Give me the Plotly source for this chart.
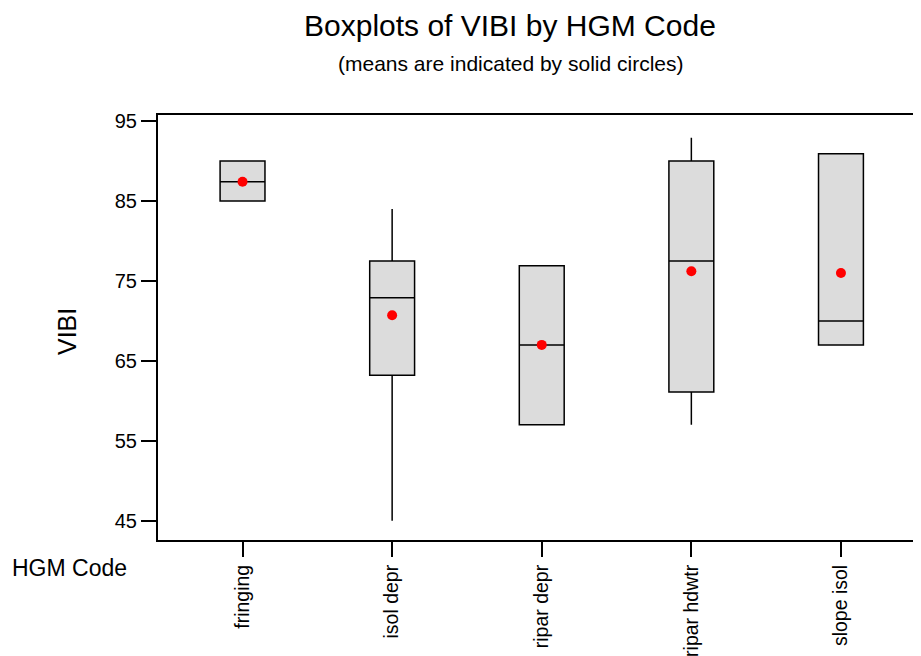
import plotly.graph_objects as go

categories = ["fringing", "isol depr", "ripar depr", "ripar hdwtr", "slope isol"]
lower_whisker = [85.0, 45.0, 57.0, 57.0, 67.0]
q1_values = [85.0, 63.2, 57.0, 61.1, 67.0]
median_values = [87.4, 72.9, 67.0, 77.5, 70.0]
q3_values = [90.0, 77.5, 76.9, 90.0, 90.9]
upper_whisker = [90.0, 84.0, 76.9, 92.9, 90.9]
mean_values = [87.4, 70.7, 67.0, 76.2, 76.0]
y_ticks = [45, 55, 65, 75, 85, 95]

OFF = 8  # page body margin
W, H = 921 - OFF, 656 - OFF
L, T = 158 - OFF, 115 - OFF
R = 0
ph = 540 - 115
B = H - T - ph
pw = W - L - R

xpos = list(range(len(categories)))

fig = go.Figure()
fig.add_trace(go.Box(
    x=xpos, q1=q1_values, median=median_values, q3=q3_values,
    lowerfence=lower_whisker, upperfence=upper_whisker,
    width=0.3, whiskerwidth=0, boxpoints=False,
    fillcolor="#DCDCDC", line=dict(color="black", width=1.5),
    showlegend=False, hoverinfo="skip",
))
fig.add_trace(go.Scatter(
    x=xpos, y=mean_values, mode="markers",
    marker=dict(color="#FF0000", size=10, symbol="circle"),
    showlegend=False,
))

font_family = "Liberation Sans, Arial, sans-serif"

def px_x(p):
    return (p - OFF - L) / pw

def px_y(p):
    return 1 - (p - OFF - T) / ph

fig.update_layout(
    width=W, height=H,
    margin=dict(l=L, r=R, t=T, b=B, autoexpand=False),
    paper_bgcolor="white", plot_bgcolor="white",
    font=dict(family=font_family, color="black"),
    xaxis=dict(
        range=[-0.565, 4.535], tickvals=xpos, ticktext=categories,
        tickangle=-90, ticks="outside", ticklen=15, tickwidth=1.5,
        tickcolor="black", showline=True, linecolor="black", linewidth=2,
        mirror=True, showgrid=False, zeroline=False, automargin=False,
        tickfont=dict(size=19.5, family=font_family),
    ),
    yaxis=dict(
        range=[42.6, 95.75], tickvals=y_ticks,
        ticks="outside", ticklen=15, tickwidth=1.5, tickcolor="black",
        showline=True, linecolor="black", linewidth=2,
        showgrid=False, zeroline=False, automargin=False,
        tickfont=dict(size=20, family=font_family),
    ),
    annotations=[
        dict(text="Boxplots of VIBI by HGM Code", xref="paper", yref="paper",
             x=px_x(510), y=px_y(26), xanchor="center", yanchor="middle",
             showarrow=False, font=dict(size=30, family=font_family)),
        dict(text="(means are indicated by solid circles)", xref="paper", yref="paper",
             x=px_x(510), y=px_y(63), xanchor="center", yanchor="middle",
             showarrow=False, font=dict(size=21, family=font_family)),
        dict(text="VIBI", xref="paper", yref="paper",
             x=px_x(67), y=px_y(332), xanchor="center", yanchor="middle",
             textangle=-90, showarrow=False, font=dict(size=25, family=font_family)),
        dict(text="HGM Code", xref="paper", yref="paper",
             x=px_x(10), y=px_y(568), xanchor="left", yanchor="middle",
             showarrow=False, font=dict(size=23, family=font_family)),
    ],
)

fig.write_html("out.html")
